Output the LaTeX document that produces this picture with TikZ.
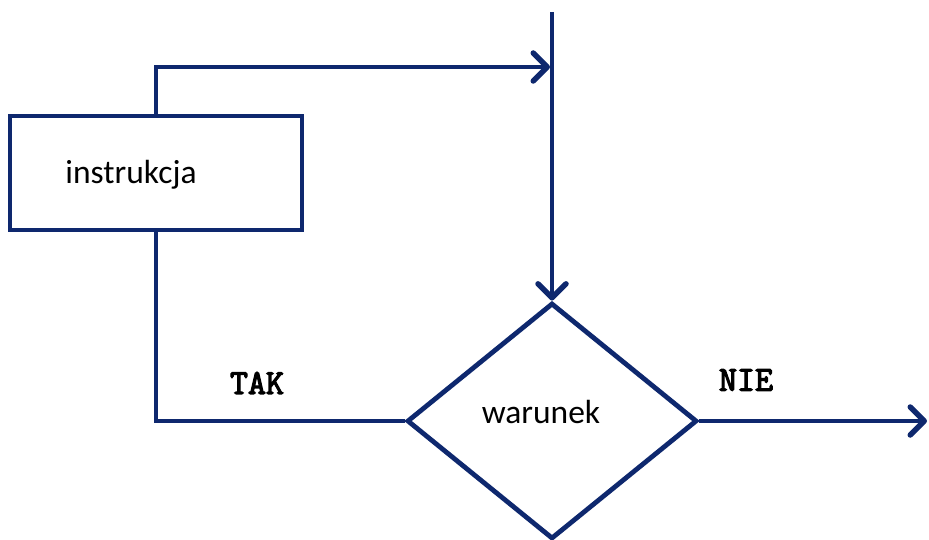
\documentclass[tikz,border=0pt]{standalone}
\usepackage{fontspec}
\setmainfont{Carlito}
\newfontfamily\monob[FakeBold=3.5]{Latin Modern Mono}
\usetikzlibrary{shapes.geometric,arrows.meta,calc}
\definecolor{navy}{RGB}{14,40,110}
\begin{document}
\begin{tikzpicture}[x=1pt,y=-1pt,
  line/.style={draw=navy,line width=4.8pt},
  arr/.style={line,-{Straight Barb[length=14pt,width=28pt,line width=5.5pt,round]}},
  sans/.style={font=\fontsize{33.5}{37}\selectfont,text=black,inner sep=0},
  lab/.style={font=\monob\fontsize{35}{38}\selectfont,text=black,inner sep=0}]
\useasboundingbox (0,0) rectangle (929,540);
\node[line,rectangle,minimum width=292pt,minimum height=114pt,inner sep=0] (box) at (156,173) {};
\node[sans] (boxtxt) at (131,175) {instrukcja};
\node[line,diamond,minimum width=290pt,minimum height=236pt,inner sep=0] (war) at (552,421) {};
\node[sans] (wartxt) at (541,412) {warunek};
\coordinate (top) at (552,12);
\coordinate (join) at (550,67);
\coordinate (out) at (927,421);
\draw[arr] (top) -- (war.north);
\draw[arr] (box.north) |- (join);
\draw[line] (box.south) |- (war.west);
\draw[arr] (war.east) -- (out);
\node[lab] (tak) at (257,383) {TAK};
\node[lab] (nie) at (746,380) {NIE};
\end{tikzpicture}
\end{document}
